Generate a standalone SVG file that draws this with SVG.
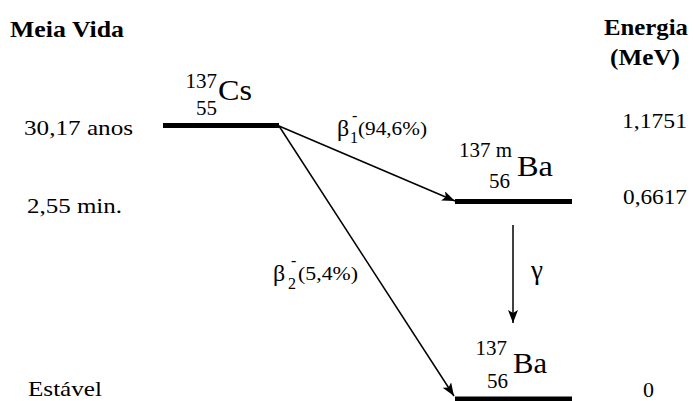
<svg xmlns="http://www.w3.org/2000/svg" width="694" height="401" viewBox="0 0 694 401">
<style>
text{font-family:"Liberation Serif","Times New Roman",Times,serif;fill:#000}
.hd{font-weight:bold;font-size:23px}
.lb{font-size:22px}
.iso{font-size:21px}
.sym{font-size:29px}
.sm{font-size:16px}
.pc{font-size:19px}
.gk{font-size:24px}
.lvl{stroke:#000;stroke-width:5;fill:none}
.arr{stroke:#000;stroke-width:1.5;fill:none;marker-end:url(#ah)}
</style>
<defs>
<marker id="ah" markerUnits="userSpaceOnUse" markerWidth="14" markerHeight="10" refX="13" refY="5" orient="auto">
<path d="M0,0 L13,5 L0,10 L3,5 z" fill="#000"/>
</marker>
</defs>
<rect width="694" height="401" fill="#fff"/>
<g id="headers">
<text class="hd" x="10" y="37" textLength="114" lengthAdjust="spacingAndGlyphs">Meia Vida</text>
<text class="hd" x="604" y="35" textLength="84" lengthAdjust="spacingAndGlyphs">Energia</text>
<text class="hd" x="610" y="65" textLength="70" lengthAdjust="spacingAndGlyphs">(MeV)</text>
</g>
<g id="halflives">
<text class="lb" x="24" y="135" textLength="109" lengthAdjust="spacingAndGlyphs">30,17 anos</text>
<text class="lb" x="27" y="213" textLength="95" lengthAdjust="spacingAndGlyphs">2,55 min.</text>
<text class="lb" x="28" y="396" textLength="74" lengthAdjust="spacingAndGlyphs">Estável</text>
</g>
<g id="energies">
<text class="lb" x="622" y="128" textLength="65" lengthAdjust="spacingAndGlyphs">1,1751</text>
<text class="lb" x="623" y="204" textLength="64" lengthAdjust="spacingAndGlyphs">0,6617</text>
<text class="lb" x="643" y="397">0</text>
</g>
<g id="cs137">
<line class="lvl" x1="163" y1="125.5" x2="279" y2="125.5"/>
<text class="iso" x="217" y="88" text-anchor="end">137</text>
<text class="iso" x="217" y="115" text-anchor="end">55</text>
<text class="sym" x="218" y="100" textLength="34" lengthAdjust="spacingAndGlyphs">Cs</text>
</g>
<g id="ba137m">
<line class="lvl" x1="455" y1="201.5" x2="572" y2="201.5"/>
<text class="iso" x="459" y="157" textLength="53" lengthAdjust="spacingAndGlyphs">137 m</text>
<text class="iso" x="510" y="188" text-anchor="end">56</text>
<text class="sym" x="517" y="176" textLength="36" lengthAdjust="spacingAndGlyphs">Ba</text>
</g>
<g id="ba137">
<line class="lvl" x1="455" y1="399" x2="572" y2="399"/>
<text class="iso" x="507" y="355" text-anchor="end">137</text>
<text class="iso" x="508" y="388" text-anchor="end">56</text>
<text class="sym" x="513" y="373" textLength="34" lengthAdjust="spacingAndGlyphs">Ba</text>
</g>
<g id="connectors">
<line class="arr" x1="279" y1="126" x2="455" y2="201"/>
<line class="arr" x1="279" y1="126" x2="454" y2="396"/>
<line class="arr" x1="513" y1="225" x2="513" y2="323"/>
</g>
<g id="labels">
<text class="gk" x="337" y="136">β</text>
<text class="sm" x="352" y="121">-</text>
<text class="sm" x="350" y="143">1</text>
<text class="pc" x="358" y="135" textLength="69" lengthAdjust="spacingAndGlyphs">(94,6%)</text>
<text class="gk" x="273" y="281">β</text>
<text class="sm" x="291" y="266">-</text>
<text class="sm" x="288" y="289">2</text>
<text class="pc" x="298" y="280" textLength="60" lengthAdjust="spacingAndGlyphs">(5,4%)</text>
<text class="gk" x="531" y="279" style="font-size:27px">γ</text>
</g>
</svg>
